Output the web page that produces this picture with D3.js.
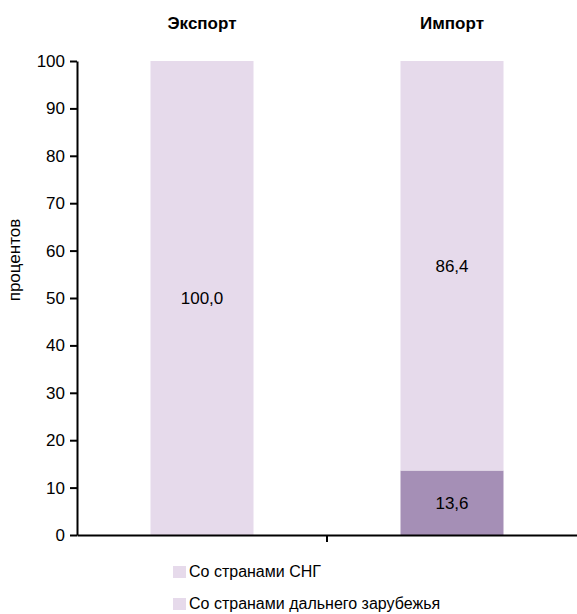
<!DOCTYPE html>
<html><head><meta charset="utf-8">
<script src="https://cdn.jsdelivr.net/npm/d3@7"></script>
<style>body{margin:0;background:#fff;} svg{display:block;font-family:"Liberation Sans",Arial,sans-serif;}</style>
</head><body>
<script>
const categories = ["Экспорт", "Импорт"];
const seriesNames = ["Со странами СНГ", "Со странами дальнего зарубежья"];
const cisValues = [0, 13.6];
const farValues = [100.0, 86.4];
const yTicks = [0, 10, 20, 30, 40, 50, 60, 70, 80, 90, 100];
const yLabel = "процентов";

const W = 577, H = 614;
const svg = d3.select("body").append("svg").attr("width", W).attr("height", H);

const x = d3.scaleBand().domain(categories).range([77, 577]).paddingInner(0).paddingOuter(0);
const y = d3.scaleLinear().domain([0, 100]).range([535, 61]);
const barW = 103;
const lightC = "#e6daeb", darkC = "#a58fb6";

const data = categories.map((c, i) => ({cat: c, cis: cisValues[i], far: farValues[i]}));
const stack = d3.stack().keys(["cis", "far"])(data);
const colors = {cis: darkC, far: lightC};

stack.forEach(layer => {
  svg.append("g").selectAll("rect").data(layer).join("rect")
    .attr("x", d => x(d.data.cat) + x.bandwidth()/2 - barW/2)
    .attr("width", barW)
    .attr("y", d => y(d[1]))
    .attr("height", d => y(d[0]) - y(d[1]))
    .attr("fill", colors[layer.key]);
  svg.append("g").selectAll("text").data(layer.filter(d => d[1] - d[0] > 0)).join("text")
    .attr("x", d => x(d.data.cat) + x.bandwidth()/2)
    .attr("y", d => y((d[0] + d[1]) / 2))
    .attr("dy", "0.35em")
    .attr("text-anchor", "middle")
    .attr("font-size", 17)
    .attr("fill", "#000")
    .text(d => d3.format(".1f")(d[1] - d[0]).replace(".", ","));
});

// Y axis
const yAxis = svg.append("g").attr("transform", "translate(77,0)")
  .call(d3.axisLeft(y).tickValues(yTicks).tickSize(7).tickPadding(5).tickSizeOuter(0));
yAxis.select(".domain").attr("stroke", "#000").attr("stroke-width", 2);
yAxis.selectAll(".tick line").attr("stroke", "#000").attr("stroke-width", 2);
yAxis.selectAll(".tick text").attr("font-size", 17).attr("fill", "#000")
  .attr("font-family", "Liberation Sans, Arial, sans-serif");

// X axis
const xAxis = svg.append("g").attr("transform", "translate(0,535)")
  .call(d3.axisBottom(x).tickValues([]).tickSizeOuter(0));
xAxis.select(".domain").attr("stroke", "#000").attr("stroke-width", 2);
xAxis.append("line")
  .attr("x1", x(categories[1])).attr("x2", x(categories[1]))
  .attr("y1", 0).attr("y2", 7).attr("stroke", "#000").attr("stroke-width", 2);

// Category titles on top
svg.append("g").selectAll("text").data(categories).join("text")
  .attr("x", d => x(d) + x.bandwidth()/2)
  .attr("y", 29)
  .attr("text-anchor", "middle")
  .attr("font-size", 17)
  .attr("font-weight", "bold")
  .attr("fill", "#000")
  .text(d => d);

// Y label
svg.append("text")
  .attr("transform", "translate(20,260) rotate(-90)")
  .attr("text-anchor", "middle")
  .attr("font-size", 17)
  .attr("fill", "#000")
  .text(yLabel);

// Legend (both swatches appear in light colour in the reference)
const leg = svg.append("g").selectAll("g").data(seriesNames).join("g")
  .attr("transform", (d, i) => `translate(173,${566 + i * 32})`);
leg.append("rect").attr("width", 13).attr("height", 12).attr("fill", lightC);
leg.append("text").attr("x", 16).attr("y", 11).attr("font-size", 16).attr("fill", "#000").text(d => d);
</script>
</body></html>
